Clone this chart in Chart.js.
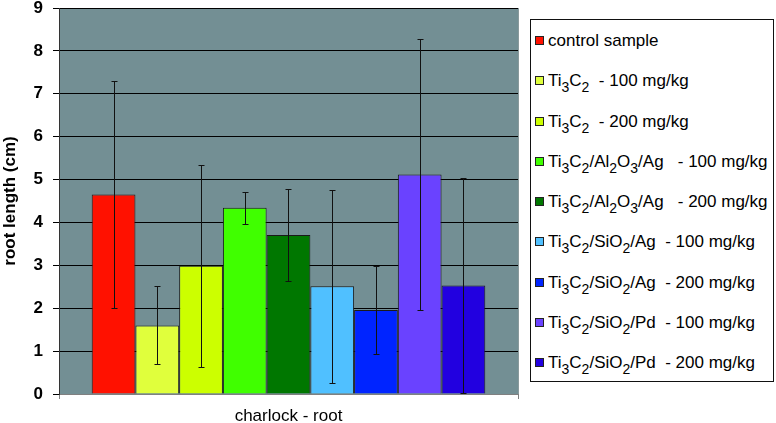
<!DOCTYPE html>
<html>
<head>
<meta charset="utf-8">
<script src="https://cdn.jsdelivr.net/npm/chart.js@4.4.1/dist/chart.umd.min.js"></script>
<style>
  html, body { margin: 0; padding: 0; background: #ffffff; }
  #wrap { position: relative; width: 776px; height: 423px; }
  #c { position: absolute; left: 0; top: 0; }
  #legend {
    position: absolute; left: 530px; top: 19px; width: 244px; height: 363px;
    box-sizing: border-box; border: 1px solid #111; background: #fff;
    font-family: "Liberation Sans", Arial, sans-serif; font-size: 17px; color: #000;
  }
  .item { position: absolute; left: 0; height: 20px; display: flex; align-items: center; white-space: pre; }
  .mk { width: 9px; height: 9px; box-sizing: border-box; border: 1px solid #222; margin-left: 4px; margin-right: 4px; margin-top: -1px; }
  .item sub { font-size: 14px; vertical-align: -6px; line-height: 0; }
</style>
</head>
<body>
<div id="wrap">
  <canvas id="c" width="776" height="423"></canvas>
  <div id="legend"></div>
</div>
<script>
// ---- data ----
const categories = ['charlock - root'];
const seriesLabels = [
  'control sample',
  'Ti₃C₂  - 100 mg/kg',
  'Ti₃C₂  - 200 mg/kg',
  'Ti₃C₂/Al₂O₃/Ag   - 100 mg/kg',
  'Ti₃C₂/Al₂O₃/Ag   - 200 mg/kg',
  'Ti₃C₂/SiO₂/Ag  - 100 mg/kg',
  'Ti₃C₂/SiO₂/Ag  - 200 mg/kg',
  'Ti₃C₂/SiO₂/Pd  - 100 mg/kg',
  'Ti₃C₂/SiO₂/Pd  - 200 mg/kg'
];
const rootLength = [4.65, 1.60, 2.99, 4.34, 3.71, 2.51, 1.96, 5.12, 2.53];
const rootError  = [2.65, 0.91, 2.36, 0.37, 1.08, 2.25, 1.03, 3.15, 2.50];
const seriesColors = ['#ff1100', '#e0ff3c', '#ccff00', '#40ff00', '#007700', '#50c0ff', '#0024ff', '#6a42ff', '#2200e0'];
const yTicks = [0, 1, 2, 3, 4, 5, 6, 7, 8, 9];

Chart.defaults.font.family = '"Liberation Sans", Arial, sans-serif';
Chart.defaults.color = '#000';

const plotBg = {
  id: 'plotBg',
  beforeDraw(chart) {
    const a = chart.chartArea, ctx = chart.ctx;
    ctx.save();
    ctx.fillStyle = '#738f94';
    ctx.fillRect(a.left, a.top, a.right - a.left, a.bottom - a.top);
    ctx.strokeStyle = '#8a9a9c';
    ctx.lineWidth = 1;
    ctx.beginPath();
    ctx.moveTo(a.right + 0.5, a.top);
    ctx.lineTo(a.right + 0.5, a.bottom);
    ctx.stroke();
    ctx.restore();
  }
};

const errorBars = {
  id: 'errorBars',
  afterDatasetsDraw(chart) {
    const ctx = chart.ctx, ys = chart.scales.y;
    ctx.save();
    ctx.strokeStyle = '#111';
    ctx.lineWidth = 1;
    chart.data.datasets.forEach((ds, i) => {
      const meta = chart.getDatasetMeta(i);
      meta.data.forEach((bar, j) => {
        const v = ds.data[j], e = ds.errors[j];
        const x = Math.round(bar.x) + 0.5;
        const yHi = Math.round(ys.getPixelForValue(v + e)) + 0.5;
        const yLo = Math.round(ys.getPixelForValue(Math.max(0, v - e))) + 0.5;
        ctx.beginPath();
        ctx.moveTo(x, yHi); ctx.lineTo(x, yLo);
        ctx.moveTo(x - 3, yHi); ctx.lineTo(x + 3, yHi);
        ctx.moveTo(x - 3, yLo); ctx.lineTo(x + 3, yLo);
        ctx.stroke();
      });
    });
    ctx.restore();
  }
};

const chart = new Chart(document.getElementById('c'), {
  type: 'bar',
  data: {
    labels: categories,
    datasets: seriesLabels.map((lab, i) => ({
      label: lab,
      data: [rootLength[i]],
      errors: [rootError[i]],
      backgroundColor: seriesColors[i],
      borderColor: '#1a1a1a',
      borderWidth: 1,
      barPercentage: 1.0,
      categoryPercentage: 0.8575
    }))
  },
  options: {
    responsive: false,
    animation: false,
    devicePixelRatio: 1,
    layout: { padding: { left: 0, right: 258, top: 0, bottom: 0 } },
    plugins: {
      legend: { display: false },
      tooltip: { enabled: false }
    },
    scales: {
      x: {
        type: 'category',
        grid: { offset: true, drawOnChartArea: false, tickLength: 5, color: '#808080' },
        border: { color: '#808080', width: 1 },
        ticks: { font: { size: 17 }, color: '#000', padding: 7 },
        afterFit(scale) { scale.height = 29; scale.paddingLeft = 0; scale.paddingRight = 0; }
      },
      y: {
        min: 0, max: 9,
        afterBuildTicks(scale) { scale.ticks = yTicks.map(v => ({ value: v })); },
        afterFit(scale) { scale.width = 59; scale.paddingTop = 8; scale.paddingBottom = 0; },
        grid: { color: '#000', lineWidth: 1, tickLength: 6 },
        border: { color: '#333', width: 1 },
        ticks: { font: { size: 17, weight: 'bold', lineHeight: 1 }, color: '#000', padding: 10 },
        title: {
          display: true, text: 'root length (cm)', color: '#000',
          font: { size: 17, weight: 'bold' }, padding: { top: 0, bottom: 13 }
        }
      }
    }
  },
  plugins: [plotBg, errorBars]
});

// HTML legend built from the chart's datasets
(function buildLegend() {
  const subMap = { '₀':'0','₁':'1','₂':'2','₃':'3','₄':'4','₅':'5','₆':'6','₇':'7','₈':'8','₉':'9' };
  const toHtml = s => s.replace(/[₀-₉]/g, ch => '<sub>' + subMap[ch] + '</sub>');
  const box = document.getElementById('legend');
  chart.data.datasets.forEach((ds, i) => {
    const it = document.createElement('div');
    it.className = 'item';
    it.style.top = (11 + i * 40.25) + 'px';
    const mk = document.createElement('span');
    mk.className = 'mk';
    mk.style.background = ds.backgroundColor;
    const tx = document.createElement('span');
    tx.innerHTML = toHtml(ds.label);
    it.appendChild(mk); it.appendChild(tx);
    box.appendChild(it);
  });
})();
</script>
</body>
</html>
